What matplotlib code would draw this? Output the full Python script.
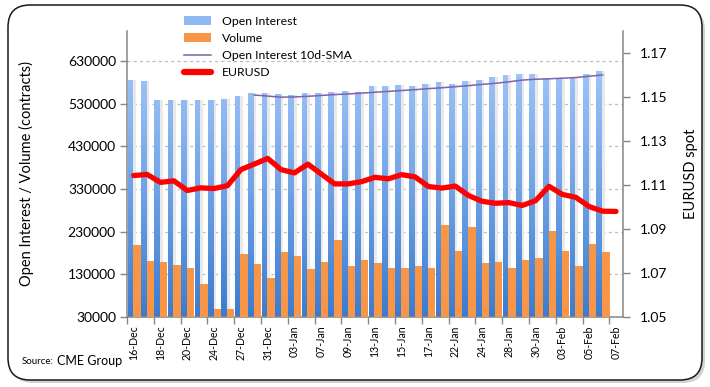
import numpy as np
import matplotlib
matplotlib.use("Agg")
import matplotlib.pyplot as plt
from matplotlib.patches import FancyBboxPatch, Patch, PathPatch
from matplotlib.lines import Line2D
from matplotlib.path import Path
from matplotlib.colors import LinearSegmentedColormap

plt.rcParams['font.family'] = ['Lato', 'DejaVu Sans']

# ---------------- data ----------------
dates = ["16-Dec", "17-Dec", "18-Dec", "19-Dec", "20-Dec", "23-Dec", "24-Dec", "26-Dec",
         "27-Dec", "30-Dec", "31-Dec", "02-Jan", "03-Jan", "06-Jan", "07-Jan", "08-Jan",
         "09-Jan", "10-Jan", "13-Jan", "14-Jan", "15-Jan", "16-Jan", "17-Jan", "21-Jan",
         "22-Jan", "23-Jan", "24-Jan", "27-Jan", "28-Jan", "29-Jan", "30-Jan", "31-Jan",
         "03-Feb", "04-Feb", "05-Feb", "06-Feb", "07-Feb"]

open_interest = [585600, 583300, 539000, 537300, 537300, 537300, 539000, 541300,
                 548300, 555300, 555300, 553000, 550600, 555300, 555300, 557600,
                 560000, 557600, 571600, 571600, 574000, 571600, 576300, 581000,
                 576300, 583300, 585600, 592600, 597300, 599600, 599600, 590300,
                 590300, 592600, 599600, 606600]

volume = [198100, 161500, 159100, 152100, 145100, 107800, 49400, 49400,
          177800, 154500, 121800, 182500, 173100, 142800, 159100, 210500,
          149800, 163800, 156800, 145100, 145100, 149800, 145100, 245500,
          184800, 240200, 156800, 159100, 145100, 163800, 168500, 231500,
          184800, 149800, 201200, 182500]

# 10-day SMA of open interest (starts at the 10th session)
sma_start = 9
oi_sma = [550000, 547500, 545000, 545500, 547000, 549000, 551000, 552500, 554500,
          556500, 558500, 560500, 562500, 565000, 567000, 569500, 572000, 575000,
          577500, 581000, 585000, 587000, 588000, 589500, 591000, 594000, 597000]

eurusd = [1.1143, 1.1148, 1.1112, 1.1119, 1.1075, 1.1087, 1.1084, 1.1097,
          1.1170, 1.1195, 1.1221, 1.1170, 1.1155, 1.1195, 1.1150, 1.1105,
          1.1105, 1.1115, 1.1135, 1.1128, 1.1147, 1.1137, 1.1093, 1.1086,
          1.1095, 1.1052, 1.1026, 1.1017, 1.1020, 1.1007, 1.1029, 1.1094,
          1.1057, 1.1044, 1.1002, 1.0981, 1.0980]

left_ticks = [30000, 130000, 230000, 330000, 430000, 530000, 630000]
right_ticks = [1.05, 1.07, 1.09, 1.11, 1.13, 1.15, 1.17]

# ---------------- figure ----------------
W, H = 710, 387
fig = plt.figure(figsize=(W / 100, H / 100), dpi=100)

# rounded frame with shadow
shadow = FancyBboxPatch((0.11, 0.04), 6.94, 3.75, boxstyle="round,pad=0,rounding_size=0.22",
                        transform=fig.dpi_scale_trans, facecolor="#b5b5b5",
                        edgecolor="none", zorder=-10, alpha=0.6)
frame = FancyBboxPatch((0.08, 0.07), 6.94, 3.75, boxstyle="round,pad=0,rounding_size=0.22",
                       transform=fig.dpi_scale_trans, facecolor="white",
                       edgecolor="#1a1a1a", linewidth=1.1, zorder=-9)
fig.patches.extend([shadow, frame])

left, right, bottom, top = 127 / W, 622.7 / W, 1 - 317 / H, 1 - 31 / H
ax = fig.add_axes([left, bottom, right - left, top - bottom])
ax.set_facecolor("none")

n = len(dates)
x = np.arange(n)
xb = x[:len(open_interest)]

axis_col = "#868686"

# bar glow / shadow
ax.bar(xb - 0.04, np.array(open_interest) - 30000, width=0.2, bottom=30000, align="edge",
       color="#e9e9e9", zorder=1)
# blue bars (gradient filled)
blue = ax.bar(xb - 0.46, np.array(open_interest) - 30000, width=0.43, bottom=30000,
              align="edge", color="none", edgecolor="none", zorder=2)
paths = [b.get_path().transformed(b.get_patch_transform()) for b in blue]
cpath = Path.make_compound_path(*paths)
clip = PathPatch(cpath, transform=ax.transData, facecolor="none", edgecolor="none")
ax.add_patch(clip)
cmap = LinearSegmentedColormap.from_list("bl", ["#3b7bcf", "#6fa2e6", "#a0c5f9"])
grad = np.linspace(0, 1, 256).reshape(-1, 1)
im = ax.imshow(grad, extent=[-0.5, n - 0.5, 30000, 620000], origin="lower",
               aspect="auto", cmap=cmap, zorder=2)
im.set_clip_path(clip)

# orange volume bars
ax.bar(xb - 0.03, np.array(volume) - 30000, width=0.55, bottom=30000, align="edge",
       color="#f79646", edgecolor="none", zorder=3)

# SMA line
ax.plot(x[sma_start:sma_start + len(oi_sma)], oi_sma, color="#7f62a8", lw=1.1, zorder=4)

ax.set_xlim(-0.5, n - 0.5)
ax.set_ylim(30000, 700000)
ax.set_yticks(left_ticks)
ax.set_yticklabels([str(v) for v in left_ticks], fontsize=10)
ax.yaxis.grid(True, color="#bdbdbd", linestyle=(0, (2.5, 2.5)), linewidth=0.9)
ax.set_axisbelow(True)

ax.set_xticks(np.arange(-0.5, n, 2))
ax.set_xticklabels([])
ax.set_xticks(x[::2], minor=True)
ax.set_xticklabels(dates[::2], minor=True, rotation=90, fontsize=7.6)
ax.tick_params(axis="x", which="minor", length=0, pad=6)
ax.tick_params(axis="x", which="major", length=5, color=axis_col, width=1)
ax.tick_params(axis="y", length=5, color=axis_col, width=1, pad=3)

for s in ["top", "right"]:
    ax.spines[s].set_visible(False)
for s in ["left", "bottom"]:
    ax.spines[s].set_color(axis_col)
    ax.spines[s].set_linewidth(1.1)

ax.set_ylabel("Open Interest / Volume (contracts)", fontsize=10.5)
ax.yaxis.set_label_coords(-0.188, 0.5)

# right axis
ax2 = ax.twinx()
ax2.plot(x, eurusd, color="#ff0000", lw=3.8, solid_joinstyle="round",
         solid_capstyle="round", zorder=5)
ax2.set_ylim(1.05, 1.18)
ax2.set_yticks(right_ticks)
ax2.set_yticklabels([f"{v:.2f}" for v in right_ticks], fontsize=10)
ax2.tick_params(axis="y", length=5, color=axis_col, width=1, pad=7)
for s in ["top", "left", "bottom"]:
    ax2.spines[s].set_visible(False)
ax2.spines["right"].set_color(axis_col)
ax2.spines["right"].set_linewidth(1.1)
ax2.set_ylabel("EURUSD spot", fontsize=10.5)
ax2.yaxis.set_label_coords(1.124, 0.5)

# legend
handles = [Patch(facecolor="#8fbaf1", edgecolor="none"),
           Patch(facecolor="#f79646", edgecolor="none"),
           Line2D([], [], color="#7f62a8", lw=1.1),
           Line2D([], [], color="#ff0000", lw=4.5, solid_capstyle="round")]
labels = ["Open Interest", "Volume", "Open Interest 10d-SMA", "EURUSD"]
fig.legend(handles, labels, loc="upper left", bbox_to_anchor=(174 / W, 1 - 6 / H),
           frameon=False, fontsize=8.8, handlelength=2.2, handleheight=0.7,
           handletextpad=0.95, labelspacing=0.5, borderpad=0.3)

# source
fig.text(22 / W, 1 - 362 / H, "Source:", fontsize=7, va="center", ha="left")
fig.text(57 / W, 1 - 361 / H, "CME Group", fontsize=9, va="center", ha="left")

fig.savefig("out.png", dpi=100)
